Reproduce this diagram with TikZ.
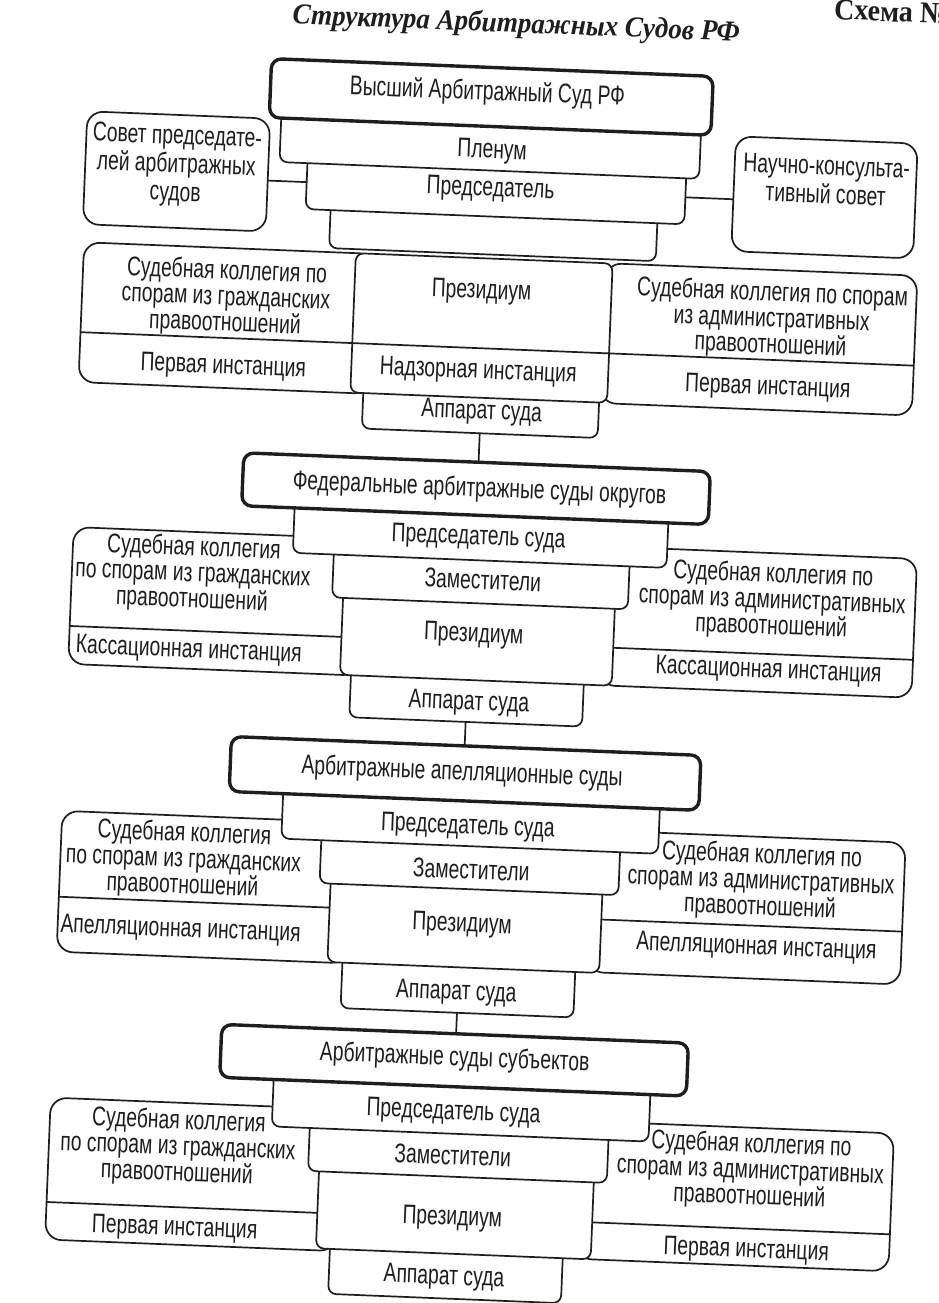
\documentclass[tikz,border=0pt]{standalone}
\usepackage{fontspec}
\setmainfont{Liberation Sans}[FakeStretch=0.715]
\newfontfamily\titlefont{Liberation Serif}[FakeStretch=0.935]
\definecolor{ink}{HTML}{1E1E1E}
\newcommand\mkbox[6]{\node[#1, minimum width={(#5-#3)*1pt}, minimum height={(#6-#4)*1pt}] (#2) at ({(#3+#5)/2},{(#4+#6)/2}) {};}
\begin{document}
\begin{tikzpicture}[x=1pt,y=-1pt,
  bx/.style={draw=ink, line width=1.7pt, fill=white, rounded corners=8pt, inner sep=0pt, outer sep=0pt},
  sbx/.style={bx, rounded corners=16pt},
  mbx/.style={bx, line width=3.4pt, rounded corners=10pt},
  ln/.style={draw=ink, line width=1.7pt},
  txt/.style={font=\fontsize{27}{26}\selectfont, text=ink, inner sep=0pt, align=center},
  t1/.style={txt, text height=19pt, text depth=5.5pt},
  stxt/.style={txt, font=\fontsize{27}{28.5}\selectfont}]
\fill[white] (0,0) rectangle (938,1303);
\useasboundingbox (0,0) rectangle (938,1303);
\begin{scope}[rotate around={-2.3:(469,651)}, transform shape]
% ---------- Section 1 ----------
\mkbox{sbx}{L1}{68}{258}{360}{398}
\draw[ln] (68,348) -- (360,348);
\mkbox{sbx}{R1}{590}{258}{902}{398}
\draw[ln] (590,348) -- (902,348);
\mkbox{bx}{A1}{353}{385}{589}{433}
\mkbox{bx}{P1}{340}{258}{597}{397.5}
\draw[ln] (340,348) -- (597,348);
\mkbox{bx}{E1}{313}{205}{640}{254}
\mkbox{bx}{C1}{288}{160}{667}{216}
\mkbox{bx}{PL}{260}{110}{680}{170}
\mkbox{mbx}{VAS}{248}{67}{690}{126}
\mkbox{sbx}{SOV}{66}{127}{249}{240}
\mkbox{sbx}{NKS}{715}{126}{897}{241}
\node[t1] (tVAS) at (465,93) {Высший Арбитражный Суд РФ};
\node[t1] (tPL) at (472,151) {Пленум};
\node[t1] (tC1) at (472,189) {Председатель};
\node[stxt] (tSOV) at (157,178) {Совет председате-\\лей арбитражных\\судов};
\node[stxt] (tNKS) at (807,166) {Научно-консульта-\\тивный совет};
\node[txt] (tL1) at (212,308) {Судебная коллегия по\\спорам из гражданских\\правоотношений};
\node[t1] (tL1b) at (212,377) {Первая инстанция};
\node[t1] (tP1) at (467,291.5) {Президиум};
\node[t1] (tP1b) at (467,371.5) {Надзорная инстанция};
\node[txt] (tR1) at (758,308) {Судебная коллегия по спорам\\из административных\\правоотношений};
\node[t1] (tR1b) at (757,376) {Первая инстанция};
\node[t1] (tA1) at (472,412) {Аппарат суда};
\draw[ln] (tC1 -| SOV.east) -- (tC1 -| C1.west);
\draw[ln] (tC1 -| C1.east) -- (tC1 -| NKS.west);
% ---------- Section 2 ----------
\mkbox{sbx}{L2}{69}{543}{360}{680}
\draw[ln] (69,642) -- (360,642);
\mkbox{sbx}{R2}{600}{541}{913}{680}
\draw[ln] (600,642) -- (913,642);
\mkbox{bx}{A2}{352}{670}{585}{722}
\mkbox{bx}{P2}{341}{593}{613}{680}
\mkbox{bx}{Z2}{330}{550}{626}{603}
\mkbox{bx}{C2}{289}{505}{663}{560}
\mkbox{mbx}{FED}{236}{462}{703}{515}
\node[t1] (tFED) at (473,489.5) {Федеральные арбитражные суды округов};
\node[t1] (tC2) at (474,537.5) {Председатель суда};
\node[t1] (tZ2) at (480,582) {Заместители};
\node[t1] (tP2) at (473,635) {Президиум};
\node[t1] (tA2) at (471,703) {Аппарат суда};
\node[txt] (tL2) at (190,585.5) {Судебная коллегия\\по спорам из гражданских\\правоотношений};
\node[t1] (tL2b) at (189,662) {Кассационная инстанция};
\node[txt] (tR2) at (770,589) {Судебная коллегия по\\спорам из административных\\правоотношений};
\node[t1] (tR2b) at (769,659) {Кассационная инстанция};
\draw[ln] (A1.south) -- (A1.south |- FED.north);
% ---------- Section 3 ----------
\mkbox{sbx}{L3}{69}{827}{360}{968}
\draw[ln] (69,913) -- (360,913);
\mkbox{sbx}{R3}{600}{825}{913}{967}
\draw[ln] (600,914) -- (913,914);
\mkbox{bx}{A3}{355}{955}{588}{1013}
\mkbox{bx}{P3}{340}{878}{612}{967.5}
\mkbox{bx}{Z3}{329}{835}{628}{889}
\mkbox{bx}{C3}{289}{790}{666}{846}
\mkbox{mbx}{APL}{235}{746}{705}{801}
\node[t1] (tAPL) at (467,773.5) {Арбитражные апелляционные суды};
\node[t1] (tC3) at (475,827) {Председатель суда};
\node[t1] (tZ3) at (480,872) {Заместители};
\node[t1] (tP3) at (473,925) {Президиум};
\node[t1] (tA3) at (470,993) {Аппарат суда};
\node[txt] (tL3) at (192,871.5) {Судебная коллегия\\по спорам из гражданских\\правоотношений};
\node[t1] (tL3b) at (192,941.5) {Апелляционная инстанция};
\node[txt] (tR3) at (770,870) {Судебная коллегия по\\спорам из административных\\правоотношений};
\node[t1] (tR3b) at (768,936) {Апелляционная инстанция};
\draw[ln] (A2.south) -- (A2.south |- APL.north);
% ---------- Section 4 ----------
\mkbox{sbx}{L4}{69}{1114}{360}{1256}
\draw[ln] (69,1218.5) -- (360,1218.5);
\mkbox{sbx}{R4}{600}{1116}{913}{1254}
\draw[ln] (600,1217) -- (913,1217);
\mkbox{bx}{A4}{354}{1240}{587}{1299}
\mkbox{bx}{P4}{340}{1166}{615}{1254}
\mkbox{bx}{Z4}{329}{1123}{628}{1177}
\mkbox{bx}{C4}{291}{1078}{668}{1134}
\mkbox{mbx}{SUB}{237}{1034}{704}{1087}
\node[t1] (tSUB) at (471,1059) {Арбитражные суды субъектов};
\node[t1] (tC4) at (472,1113) {Председатель суда};
\node[t1] (tZ4) at (473,1158) {Заместители};
\node[t1] (tP4) at (475,1218.5) {Президиум};
\node[t1] (tA4) at (469,1278) {Аппарат суда};
\node[txt] (tL4) at (198,1159) {Судебная коллегия\\по спорам из гражданских\\правоотношений};
\node[t1] (tL4b) at (198,1240) {Первая инстанция};
\node[txt] (tR4) at (771,1159.5) {Судебная коллегия по\\спорам из административных\\правоотношений};
\node[t1] (tR4b) at (770,1239) {Первая инстанция};
\draw[ln] (A3.south) -- (A3.south |- SUB.north);
% ---------- Titles ----------
\node[anchor=base, font=\titlefont\bfseries\itshape\fontsize{29}{31}\selectfont, inner sep=0pt, text=ink] (title) at (491,31) {Структура Арбитражных Судов РФ};
\node[anchor=base west, font=\titlefont\bfseries\fontsize{30}{32}\selectfont, inner sep=0pt, text=ink] (schema) at (808,5) {Схема №};
\end{scope}
\end{tikzpicture}
\end{document}
